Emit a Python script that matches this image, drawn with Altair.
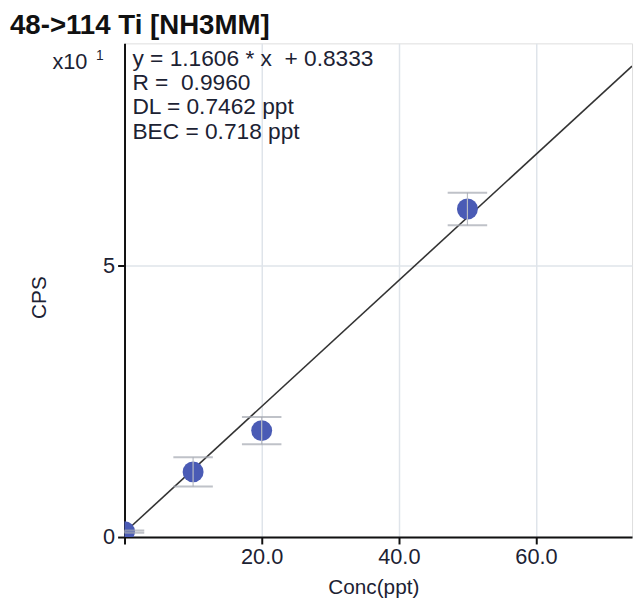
import altair as alt
import pandas as pd

# ---- data ----
conc = [0, 10, 20, 50]                 # ppt
cps = [0.10, 1.20, 1.96, 6.04]         # CPS (x10^1)
err = [0.02, 0.27, 0.25, 0.30]         # error bar half-height (x10^1)
slope = 1.1606
intercept = 0.8333
line_conc = [0, 74]
title_text = "48->114 Ti [NH3MM]"
stats_lines = ["y = 1.1606 * x \u00a0+ 0.8333", "R = \u00a00.9960", "DL = 0.7462 ppt", "BEC = 0.718 ppt"]
x_ticks = [0, 20, 40, 60]
y_ticks = [0, 5]
x_max = 74
y_max = 9.09

pts = pd.DataFrame({"conc": conc, "cps": cps,
                    "lo": [c - e for c, e in zip(cps, err)],
                    "hi": [c + e for c, e in zip(cps, err)]})
fit = pd.DataFrame({"conc": line_conc,
                    "cps": [(slope * c + intercept) / 10 for c in line_conc]})

xs = alt.Scale(domain=[0, x_max], nice=False, zero=False)
ys = alt.Scale(domain=[0, y_max], nice=False, zero=False)

FONT = "Liberation Sans"
TXT = "#1c2233"

xaxis = alt.Axis(values=x_ticks, labelExpr="datum.value == 0 ? '' : format(datum.value, '.1f')",
                 title="Conc(ppt)", grid=True, gridColor="#dfe4ea", gridWidth=1.5,
                 domainColor="#111", domainWidth=2, tickColor="#111", tickWidth=2, tickSize=7,
                 labelFont=FONT, labelFontSize=22, labelColor=TXT, labelPadding=3,
                 titleFont=FONT, titleFontSize=21, titleFontWeight="normal", titleColor=TXT,
                 titleX=252, titleY=51, titleBaseline="middle")
yaxis = alt.Axis(values=y_ticks, format="d", title="CPS", grid=True, gridColor="#dfe4ea", gridWidth=1.5,
                 domainColor="#111", domainWidth=2, tickColor="#111", tickWidth=2, tickSize=7,
                 labelFont=FONT, labelFontSize=22, labelColor=TXT, labelPadding=3,
                 titleFont=FONT, titleFontSize=21, titleFontWeight="normal", titleColor=TXT,
                 titleX=-86, titleY=257, titleBaseline="middle", titleAngle=-90)

base = alt.Chart(pts)

line = alt.Chart(fit).mark_line(color="#333333", strokeWidth=1.6, clip=True).encode(
    x=alt.X("conc:Q", scale=xs, axis=xaxis),
    y=alt.Y("cps:Q", scale=ys, axis=yaxis),
)

points = base.mark_circle(color="#4a5bb5", opacity=1, size=450, clip=True).encode(
    x=alt.X("conc:Q", scale=xs), y=alt.Y("cps:Q", scale=ys))

stem = base.mark_rule(color="#b8bcc4", strokeWidth=1.2, clip=True).encode(
    x=alt.X("conc:Q", scale=xs), y=alt.Y("lo:Q", scale=ys), y2="hi:Q")

cap_lo = base.mark_tick(color="#a4a8b0", thickness=2, size=40, orient="horizontal", clip=True).encode(
    x=alt.X("conc:Q", scale=xs), y=alt.Y("lo:Q", scale=ys))
cap_hi = base.mark_tick(color="#a4a8b0", thickness=2, size=40, orient="horizontal", clip=True).encode(
    x=alt.X("conc:Q", scale=xs), y=alt.Y("hi:Q", scale=ys))

one = pd.DataFrame({"k": [0]})
title = alt.Chart(one).mark_text(align="left", baseline="alphabetic", font=FONT, fontSize=28,
                                 fontWeight="bold", color="#111111").encode(
    x=alt.value(-116), y=alt.value(-9), text=alt.value(title_text))

x10 = alt.Chart(one).mark_text(align="left", baseline="alphabetic", font=FONT, fontSize=22,
                               color=TXT).encode(
    x=alt.value(-73), y=alt.value(26), text=alt.value("x10"))
sup = alt.Chart(one).mark_text(align="left", baseline="alphabetic", font=FONT, fontSize=14,
                               color=TXT).encode(
    x=alt.value(-29), y=alt.value(17), text=alt.value("1"))

stats = alt.Chart(one).mark_text(align="left", baseline="alphabetic", font=FONT, fontSize=23,
                                 lineHeight=24.5, color=TXT).encode(
    x=alt.value(8), y=alt.value(23), text=alt.value(stats_lines))

chart = alt.layer(line, points, stem, cap_lo, cap_hi, title, x10, sup, stats).properties(
    width=514, height=500,
    autosize=alt.AutoSizeParams(type="none"),
    padding={"left": 118, "top": 32, "right": 3, "bottom": 64},
).configure_view(stroke=None).configure(background="white")

chart.save("out.html", embed_options={"renderer": "svg", "actions": False})
